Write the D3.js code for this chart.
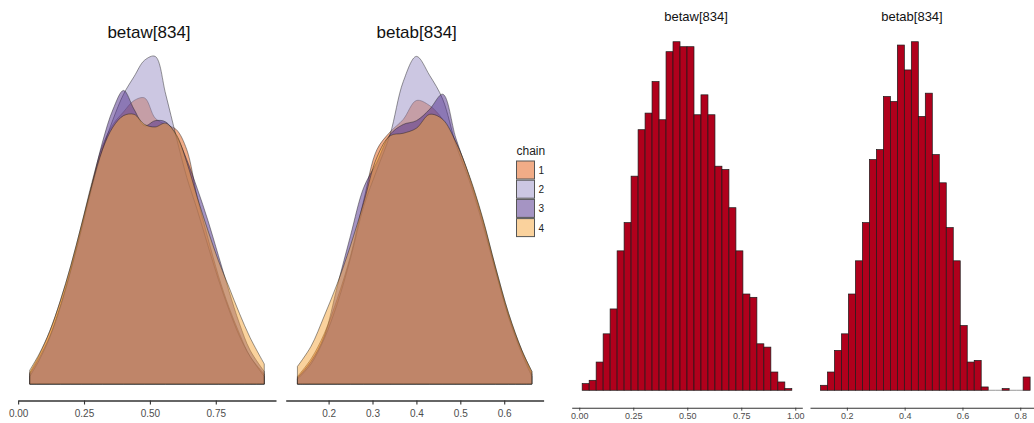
<!DOCTYPE html>
<html>
<head>
<meta charset="utf-8">
<script src="https://cdnjs.cloudflare.com/ajax/libs/d3/7.8.5/d3.min.js"></script>
<style>
    body { margin:0; background:#fff; }
    svg { display:block; font-family:"Liberation Sans", Arial, sans-serif; }
</style>
</head>
<body>
<svg id="chart" width="1034" height="423"></svg>
<script>
    //************************************************************
    // Data
    //************************************************************
    var chains = ["1", "2", "3", "4"];
    var chainColors = ["#E35A10", "#9A8FC6", "#4B2A87", "#F5A53C"];

    // density estimates (per chain) of betaw[834]
    var betawGrid   = [0.044, 0.08, 0.12, 0.16, 0.20, 0.24, 0.28, 0.32, 0.36, 0.40, 0.44, 0.48,
                       0.52, 0.56, 0.60, 0.64, 0.68, 0.72, 0.76, 0.80, 0.84, 0.88, 0.934];
    var betawChain1 = [0.09, 0.23, 0.42, 0.66, 0.94, 1.26, 1.60, 1.89, 2.06, 2.16, 2.25, 2.27,
                       2.11, 2.06, 2.02, 1.86, 1.48, 1.16, 0.86, 0.61, 0.40, 0.22, 0.08];
    var betawChain2 = [0.06, 0.19, 0.37, 0.61, 0.90, 1.22, 1.56, 1.86, 2.10, 2.30, 2.44, 2.57,
                       2.60, 2.30, 1.96, 1.64, 1.38, 1.10, 0.83, 0.59, 0.38, 0.22, 0.06];
    var betawChain3 = [0.08, 0.21, 0.38, 0.62, 0.91, 1.24, 1.58, 1.92, 2.18, 2.33, 2.18, 2.05,
                       2.09, 2.08, 1.97, 1.78, 1.55, 1.30, 1.02, 0.74, 0.48, 0.27, 0.10];
    var betawChain4 = [0.11, 0.24, 0.42, 0.66, 0.94, 1.26, 1.58, 1.86, 2.04, 2.13, 2.14, 2.06,
                       2.04, 2.07, 1.98, 1.76, 1.48, 1.22, 0.98, 0.77, 0.56, 0.37, 0.16];

    // density estimates (per chain) of betab[834]
    var betabGrid   = [0.129, 0.16, 0.19, 0.22, 0.25, 0.28, 0.31, 0.34, 0.37, 0.40, 0.43, 0.46,
                       0.49, 0.52, 0.55, 0.58, 0.61, 0.64, 0.663];
    var betabChain1 = [0.06, 0.20, 0.40, 0.68, 1.02, 1.46, 1.86, 2.00, 2.10, 2.25, 2.21, 2.10,
                       1.92, 1.65, 1.32, 0.93, 0.56, 0.27, 0.10];
    var betabChain2 = [0.04, 0.16, 0.36, 0.64, 1.00, 1.41, 1.70, 1.98, 2.40, 2.60, 2.45, 2.26,
                       1.90, 1.62, 1.28, 0.90, 0.53, 0.24, 0.06];
    var betabChain3 = [0.05, 0.18, 0.38, 0.78, 1.18, 1.56, 1.76, 1.98, 2.06, 2.09, 2.18, 2.30,
                       1.95, 1.65, 1.31, 0.91, 0.54, 0.26, 0.08];
    var betabChain4 = [0.14, 0.30, 0.54, 0.80, 1.10, 1.44, 1.80, 1.97, 1.99, 2.03, 2.14, 2.10,
                       1.92, 1.66, 1.33, 0.93, 0.56, 0.27, 0.10];

    // histograms (30 bins)
    var betawBinStart = 0.0135, betawBinWidth = 0.03235;
    var betawCounts = [4, 6, 17, 34, 49, 84, 101, 129, 157, 167, 186, 163, 204, 210, 207,
                       207, 166, 178, 166, 135, 133, 110, 84, 58, 56, 28, 26, 11, 5, 1];
    var betabBinStart = 0.1087, betabBinWidth = 0.02418;
    var betabCounts = [3, 11, 24, 34, 58, 78, 101, 139, 145, 177, 174, 208, 193, 210, 165,
                       179, 142, 125, 98, 78, 39, 17, 18, 2, 0, 0, 1, 0, 0, 8];

    // tick labels
    var betawDensTicks = [0, 0.25, 0.5, 0.75];
    var betabDensTicks = [0.2, 0.3, 0.4, 0.5, 0.6];
    var betawHistTicks = [0, 0.25, 0.5, 0.75, 1.0];
    var betabHistTicks = [0.2, 0.4, 0.6, 0.8];

    //************************************************************
    // Helpers
    //************************************************************
    var svg = d3.select("#chart");

    function expand(ext) {
        var pad = (ext[1] - ext[0]) * 0.05;
        return [ext[0] - pad, ext[1] + pad];
    }

    function styleAxis(g, fontSize, lineW) {
        g.select(".domain").attr("stroke", "#333").attr("stroke-width", lineW);
        g.selectAll(".tick line").attr("stroke", "#333").attr("stroke-width", lineW * 0.8);
        g.selectAll(".tick text").attr("fill", "#4d4d4d")
            .style("font-size", fontSize + "px")
            .style("font-family", "'Liberation Sans', Arial, sans-serif");
    }

    //************************************************************
    // Density overlay panels
    //************************************************************
    function densityPanel(title, grid, series, ticks, fmt, x0, x1) {
        var x = d3.scaleLinear().domain(expand(d3.extent(grid))).range([x0, x1]);
        var ymax = d3.max(series, function(s) { return d3.max(s); });
        var y = d3.scaleLinear().domain([-0.05 * ymax, 1.05 * ymax]).range([400.5, 40]);

        var area = d3.area()
            .x(function(d, i) { return x(grid[i]); })
            .y0(y(0))
            .y1(function(d) { return y(d); })
            .curve(d3.curveCatmullRom.alpha(0.5));

        var g = svg.append("g");
        g.selectAll("path.dens")
            .data(series)
            .enter().append("path")
            .attr("class", "dens")
            .attr("d", area)
            .attr("fill", function(d, i) { return chainColors[i]; })
            .attr("fill-opacity", 0.5)
            .attr("stroke", "#1a1a1a")
            .attr("stroke-opacity", 0.75)
            .attr("stroke-width", 0.6);

        var ax = g.append("g")
            .attr("transform", "translate(0,400.5)")
            .call(d3.axisBottom(x).tickValues(ticks).tickFormat(d3.format(fmt))
                .tickSize(4).tickSizeOuter(0).tickPadding(5.5));
        styleAxis(ax, 10, 1.4);

        g.append("text")
            .attr("x", (x0 + x1) / 2 + 2)
            .attr("y", 38)
            .attr("text-anchor", "middle")
            .style("font-size", "17px")
            .attr("fill", "#111")
            .text(title);
    }

    densityPanel("betaw[834]", betawGrid,
        [betawChain1, betawChain2, betawChain3, betawChain4], betawDensTicks, ".2f", 18, 276);
    densityPanel("betab[834]", betabGrid,
        [betabChain1, betabChain2, betabChain3, betabChain4], betabDensTicks, ".1f", 285.7, 543.6);

    // legend
    var legend = svg.append("g").attr("transform", "translate(516.5,155)");
    legend.append("text").attr("x", 0).attr("y", 0)
        .style("font-size", "12px").attr("fill", "#222").text("chain");
    var keys = legend.selectAll("g.key").data(chains).enter().append("g")
        .attr("class", "key")
        .attr("transform", function(d, i) { return "translate(0," + (6 + i * 19.2) + ")"; });
    keys.append("rect")
        .attr("width", 18).attr("height", 18)
        .attr("fill", function(d, i) { return chainColors[i]; })
        .attr("fill-opacity", 0.5)
        .attr("stroke", "#555").attr("stroke-width", 1);
    keys.append("text").attr("x", 22).attr("y", 13)
        .style("font-size", "10px").attr("fill", "#222")
        .text(function(d) { return d; });

    //************************************************************
    // Histogram panels
    //************************************************************
    function histPanel(title, start, width, counts, ticks, fmt, x0, x1, titleX) {
        var bins = counts.map(function(c, i) {
            return { a: start + i * width, b: start + (i + 1) * width, c: c };
        });
        var x = d3.scaleLinear()
            .domain(expand([start, start + counts.length * width])).range([x0, x1]);
        var ymax = d3.max(counts);
        var y = d3.scaleLinear().domain([-0.05 * ymax, 1.05 * ymax]).range([407.7, 24.3]);

        var g = svg.append("g");
        // empty bins are drawn as a flat grey outline on the baseline
        g.selectAll("line.empty")
            .data(bins.filter(function(d) { return d.c === 0; }))
            .enter().append("line")
            .attr("class", "empty")
            .attr("x1", function(d) { return x(d.a); })
            .attr("x2", function(d) { return x(d.b); })
            .attr("y1", y(0)).attr("y2", y(0))
            .attr("stroke", "#999").attr("stroke-width", 1);

        g.selectAll("rect.bar")
            .data(bins.filter(function(d) { return d.c > 0; }))
            .enter().append("rect")
            .attr("class", "bar")
            .attr("x", function(d) { return x(d.a); })
            .attr("width", function(d) { return x(d.b) - x(d.a); })
            .attr("y", function(d) { return y(d.c); })
            .attr("height", function(d) { return y(0) - y(d.c); })
            .attr("fill", "#B0001C")
            .attr("stroke", "#1a1a1a")
            .attr("stroke-width", 0.7);

        var ax = g.append("g")
            .attr("transform", "translate(0,407.7)")
            .call(d3.axisBottom(x).tickValues(ticks).tickFormat(d3.format(fmt))
                .tickSize(3).tickSizeOuter(0).tickPadding(1.5));
        styleAxis(ax, 9, 1.1);

        g.append("text")
            .attr("x", titleX)
            .attr("y", 21)
            .attr("text-anchor", "middle")
            .style("font-size", "13px")
            .attr("fill", "#111")
            .text(title);
    }

    histPanel("betaw[834]", betawBinStart, betawBinWidth, betawCounts,
        betawHistTicks, ".2f", 571.7, 802.3, 696);
    histPanel("betab[834]", betabBinStart, betabBinWidth, betabCounts,
        betabHistTicks, ".1f", 810, 1040.6, 912);
</script>
</body>
</html>
